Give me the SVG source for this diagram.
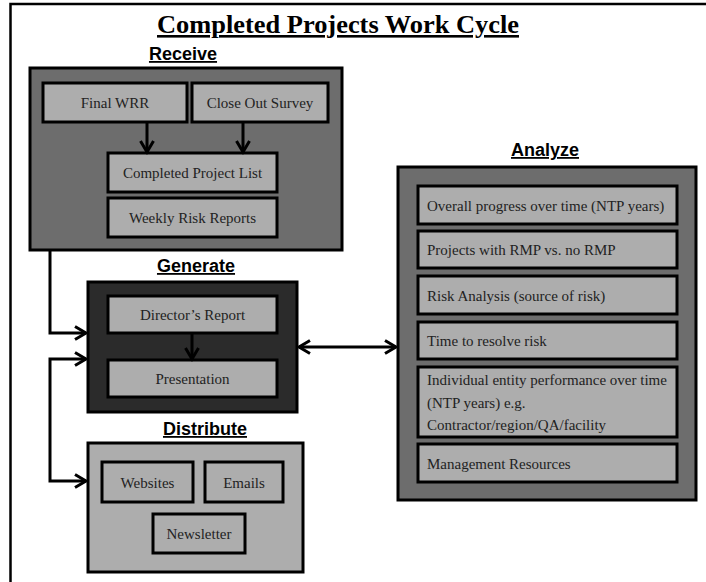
<svg xmlns="http://www.w3.org/2000/svg" width="706" height="582" viewBox="0 0 706 582">
  <style>
    .frame { fill: none; stroke: #000; stroke-width: 2.5; }
    .outer { stroke: #000; stroke-width: 3; }
    .mid { fill: #6d6d6d; }
    .dark { fill: #2b2b2b; }
    .light { fill: #adadad; }
    .item { fill: #adadad; stroke: #000; stroke-width: 3; }
    .t { font-family: "Liberation Serif", "Times New Roman", serif; font-size: 15px; fill: #222; }
    .c { text-anchor: middle; }
    .h { font-family: "Liberation Sans", Arial, sans-serif; font-weight: bold; font-size: 18px; fill: #000; text-anchor: middle; text-decoration: underline; }
    .title { font-family: "Liberation Serif", "Times New Roman", serif; font-weight: bold; font-size: 26px; fill: #000; text-anchor: middle; text-decoration: underline; }
    .conn { fill: none; stroke: #000; stroke-width: 3; }
  </style>
  <defs>
    <marker id="chev" markerUnits="userSpaceOnUse" markerWidth="16" markerHeight="16" refX="12" refY="8" orient="auto-start-reverse">
      <path d="M1,1.5 L12,8 L1,14.5" fill="none" stroke="#000" stroke-width="3"/>
    </marker>
  </defs>

  <rect width="706" height="582" fill="#fff"/>
  <!-- page frame (open at right and bottom) -->
  <path class="frame" d="M10.5,582 V4 H706"/>

  <text class="title" x="338" y="33" textLength="362" lengthAdjust="spacingAndGlyphs">Completed Projects Work Cycle</text>

  <!-- Receive -->
  <g id="receive">
    <text class="h" x="183" y="60">Receive</text>
    <rect class="outer mid" x="30" y="68" width="312" height="182"/>
    <g id="final-wrr">
      <rect class="item" x="43" y="83" width="144" height="39"/>
      <text class="t c" x="115" y="108">Final WRR</text>
    </g>
    <g id="close-out-survey">
      <rect class="item" x="192" y="83" width="136" height="39"/>
      <text class="t c" x="260" y="108">Close Out Survey</text>
    </g>
    <g id="completed-project-list">
      <rect class="item" x="108" y="153" width="169" height="39"/>
      <text class="t c" x="192.5" y="178">Completed Project List</text>
    </g>
    <g id="weekly-risk-reports">
      <rect class="item" x="108" y="198" width="169" height="39"/>
      <text class="t c" x="192.5" y="223">Weekly Risk Reports</text>
    </g>
  </g>

  <!-- Generate -->
  <g id="generate">
    <text class="h" x="196" y="272">Generate</text>
    <rect class="outer dark" x="88" y="282" width="209" height="130"/>
    <g id="directors-report">
      <rect class="item" x="108" y="296" width="169" height="37"/>
      <text class="t c" x="192.5" y="320">Director’s Report</text>
    </g>
    <g id="presentation">
      <rect class="item" x="108" y="360" width="169" height="37"/>
      <text class="t c" x="192.5" y="384">Presentation</text>
    </g>
  </g>

  <!-- Distribute -->
  <g id="distribute">
    <text class="h" x="205" y="435">Distribute</text>
    <rect class="outer light" x="88" y="443" width="215" height="129"/>
    <g id="websites">
      <rect class="item" x="102" y="462" width="91" height="40"/>
      <text class="t c" x="147.5" y="488">Websites</text>
    </g>
    <g id="emails">
      <rect class="item" x="205" y="462" width="78" height="40"/>
      <text class="t c" x="244" y="488">Emails</text>
    </g>
    <g id="newsletter">
      <rect class="item" x="153" y="514" width="92" height="39"/>
      <text class="t c" x="199" y="539">Newsletter</text>
    </g>
  </g>

  <!-- Analyze -->
  <g id="analyze">
    <text class="h" x="545" y="156">Analyze</text>
    <rect class="outer mid" x="398" y="167" width="298" height="333"/>
    <g id="overall-progress">
      <rect class="item" x="418" y="186" width="259" height="38"/>
      <text class="t" x="427" y="211">Overall progress over time (NTP years)</text>
    </g>
    <g id="rmp-vs-no-rmp">
      <rect class="item" x="418" y="231" width="259" height="37"/>
      <text class="t" x="427" y="255">Projects with RMP vs. no RMP</text>
    </g>
    <g id="risk-analysis">
      <rect class="item" x="418" y="276" width="259" height="38"/>
      <text class="t" x="427" y="301">Risk Analysis (source of risk)</text>
    </g>
    <g id="time-to-resolve">
      <rect class="item" x="418" y="322" width="259" height="37"/>
      <text class="t" x="427" y="346">Time to resolve risk</text>
    </g>
    <g id="entity-performance">
      <rect class="item" x="418" y="367" width="259" height="70"/>
      <text class="t" x="427" y="385">Individual entity performance over time</text>
      <text class="t" x="427" y="408">(NTP years) e.g.</text>
      <text class="t" x="427" y="430">Contractor/region/QA/facility</text>
    </g>
    <g id="management-resources">
      <rect class="item" x="418" y="444" width="259" height="38"/>
      <text class="t" x="427" y="469">Management Resources</text>
    </g>
  </g>

  <!-- connectors -->
  <g id="connectors">
    <path class="conn" d="M147,122 V152" marker-end="url(#chev)"/>
    <path class="conn" d="M243,122 V152" marker-end="url(#chev)"/>
    <path class="conn" d="M192,333 V359" marker-end="url(#chev)"/>
    <path class="conn" d="M299,347 H396" marker-start="url(#chev)" marker-end="url(#chev)"/>
    <path class="conn" d="M50,250 V333 H86" marker-end="url(#chev)"/>
    <path class="conn" d="M86,359 H50 V481 H86" marker-start="url(#chev)" marker-end="url(#chev)"/>
  </g>
</svg>
